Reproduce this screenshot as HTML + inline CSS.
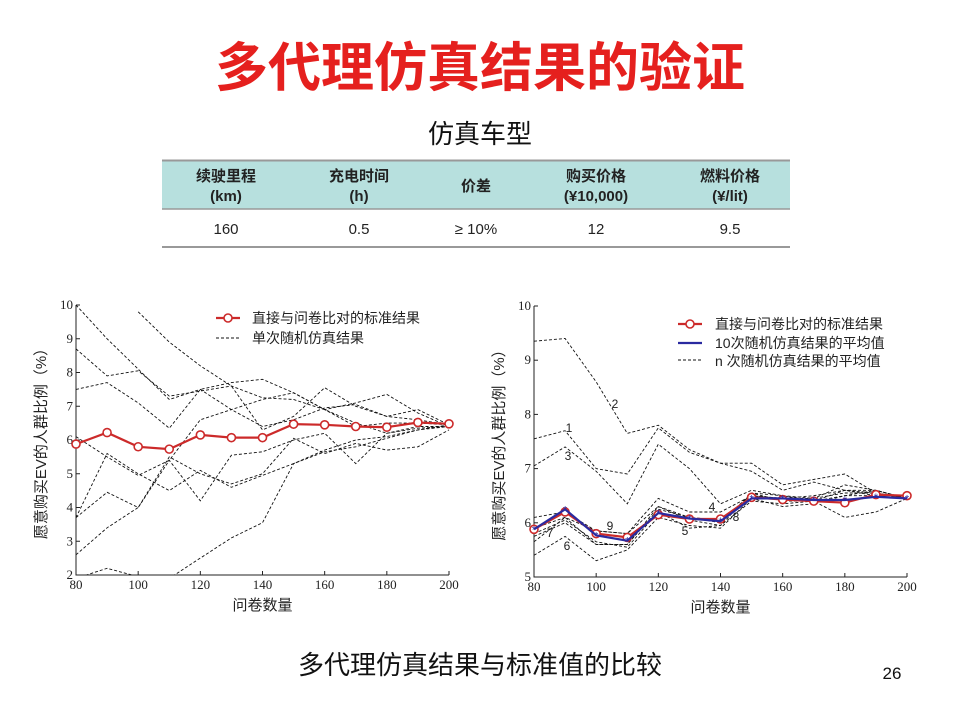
<!DOCTYPE html>
<html><head><meta charset="utf-8"><style>
body{margin:0;background:#fff;}
svg text{font-family:"Liberation Sans","Noto Sans CJK SC",sans-serif;}
.tk{font-family:"Liberation Serif","Noto Serif CJK SC",serif;font-size:13px;fill:#222;}
</style></head><body>
<svg id="s" width="960" height="720" viewBox="0 0 960 720" xmlns="http://www.w3.org/2000/svg">
<text x="480" y="86" text-anchor="middle" font-size="53" font-weight="bold" fill="#e5201e">多代理仿真结果的验证</text>
<text x="480" y="143" text-anchor="middle" font-size="26" fill="#111">仿真车型</text>
<g>
<rect x="162" y="160" width="628" height="49" fill="#b7e0de"/>
<line x1="162" y1="160.5" x2="790" y2="160.5" stroke="#999" stroke-width="2"/>
<line x1="162" y1="209" x2="790" y2="209" stroke="#999" stroke-width="1.5"/>
<line x1="162" y1="247" x2="790" y2="247" stroke="#999" stroke-width="2"/>
<g font-size="15" font-weight="bold" fill="#222" text-anchor="middle">
<text x="226" y="181">续驶里程</text><text x="226" y="201">(km)</text>
<text x="359" y="181">充电时间</text><text x="359" y="201">(h)</text>
<text x="476" y="191">价差</text>
<text x="596" y="181">购买价格</text><text x="596" y="201">(¥10,000)</text>
<text x="730" y="181">燃料价格</text><text x="730" y="201">(¥/lit)</text>
</g>
<g font-size="15" fill="#222" text-anchor="middle">
<text x="226" y="234">160</text><text x="359" y="234">0.5</text><text x="476" y="234">≥ 10%</text><text x="596" y="234">12</text><text x="730" y="234">9.5</text>
</g></g>
<g id="c1"></g>
<g id="c2"></g>
<text x="480" y="674" text-anchor="middle" font-size="26" fill="#111">多代理仿真结果与标准值的比较</text>
<text x="892" y="679" text-anchor="middle" font-size="17" fill="#111">26</text>
</svg>
<script>
const xCats=[80,90,100,110,120,130,140,150,160,170,180,190,200];
const xTicks=[80,100,120,140,160,180,200];
const leftTicksY=[2,3,4,5,6,7,8,9,10];
const rightTicksY=[5,6,7,8,9,10];
const leftStd=[5.88,6.22,5.8,5.73,6.15,6.07,6.07,6.47,6.45,6.4,6.38,6.52,6.48];
const leftRuns=[
[10,9,8.1,7.2,7.5,6.9,6.4,6.6,6.95,7.05,6.7,6.6,6.45],
[8.7,7.9,8.05,7.3,7.45,7.6,7.25,7.2,6.9,6.5,6.2,6.35,6.4],
[7.5,7.7,7.1,6.35,7.5,7.7,7.8,7.4,6.9,7.1,7.35,6.8,6.4],
[null,null,9.8,8.9,8.2,7.6,6.3,6.7,7.55,7.0,6.7,6.9,6.45],
[6.1,5.5,4.95,5.4,6.6,6.9,7.2,7.4,6.9,6.4,6.5,6.5,6.45],
[3.7,5.6,5.0,4.5,5.1,4.6,4.95,5.3,5.65,5.8,6.05,6.3,6.45],
[3.7,4.45,4.0,5.4,4.2,5.55,5.65,6.0,6.2,5.3,6.2,6.4,6.4],
[2.6,3.4,4.0,5.5,5.0,4.7,5.0,6.05,5.6,5.9,5.7,5.8,6.3],
[1.9,2.2,1.95,1.9,2.5,3.1,3.55,5.3,5.7,6.0,6.1,6.3,6.4]];
const rightStd=[5.88,6.2,5.8,5.73,6.15,6.07,6.07,6.47,6.43,6.4,6.37,6.52,6.5];
const rightAvg10=[5.88,6.25,5.77,5.67,6.18,6.08,6.03,6.45,6.45,6.42,6.42,6.48,6.45];
const rightRuns=[
[7.55,7.7,7.0,6.9,7.75,7.3,7.1,7.1,6.7,6.8,6.9,6.55,6.45],
[9.35,9.4,8.6,7.65,7.8,7.35,7.1,6.95,6.6,6.75,6.6,6.55,6.45],
[7.05,7.4,6.95,6.35,7.45,7.0,6.35,6.6,6.5,6.45,6.7,6.6,6.45],
[6.1,6.2,5.85,5.8,6.45,6.2,6.2,6.5,6.45,6.45,6.55,6.55,6.45],
[5.8,6.05,5.65,5.55,6.2,5.9,5.95,6.4,6.35,6.4,6.1,6.2,6.45],
[5.4,5.75,5.3,5.5,6.1,5.95,5.9,6.45,6.3,6.35,6.5,6.6,6.45],
[5.65,6.1,5.6,5.6,6.3,6.05,5.95,6.55,6.4,6.4,6.6,6.5,6.45],
[5.75,6.0,5.6,5.6,6.25,6.1,6.0,6.55,6.5,6.4,6.5,6.5,6.45],
[5.9,6.1,5.85,5.8,6.3,6.1,6.05,6.5,6.45,6.5,6.6,6.6,6.45]];
const runLabels=["1","2","3","4","5","6","7","8","9"];
const NS="http://www.w3.org/2000/svg";
function mk(p,t,a){const e=document.createElementNS(NS,t);for(const k in a)e.setAttribute(k,a[k]);p.appendChild(e);return e;}
function chart(g,L,R,T,B,ymin,ymax,yt,id){
  const sx=v=>L+(v-80)/(200-80)*(R-L), sy=v=>B-(v-ymin)/(ymax-ymin)*(B-T);
  const cp=mk(g,'clipPath',{id:id});mk(cp,'rect',{x:L,y:T-2,width:R-L+2,height:B-T+2});
  const ax=mk(g,'path',{d:`M${L},${T}V${B}H${R}`,stroke:'#222',fill:'none','stroke-width':1});
  
  
  yt.forEach(v=>{mk(g,'line',{x1:L,x2:L+4,y1:sy(v),y2:sy(v),stroke:'#222'});
    const t=mk(g,'text',{x:L-3,y:sy(v)+4,'text-anchor':'end',class:'tk'});t.textContent=v;
    
    });
  xTicks.forEach(v=>{mk(g,'line',{x1:sx(v),x2:sx(v),y1:B,y2:B-4,stroke:'#222'});
    const t=mk(g,'text',{x:sx(v),y:B+14,'text-anchor':'middle',class:'tk'});t.textContent=v;
    
    });
  const xt=mk(g,'text',{x:(L+R)/2,y:B+35,'text-anchor':'middle','font-size':15,fill:'#222'});xt.textContent='问卷数量';
  
  
  const yl=mk(g,'text',{transform:`translate(${L-30},${(T+B)/2}) rotate(-90)`,'text-anchor':'middle','font-size':15,fill:'#222'});yl.textContent='愿意购买EV的人群比例（%）';
  
  
  const path=a=>{let d='',m=true;a.forEach((v,i)=>{if(v==null){m=true;return;}d+=(m?'M':'L')+sx(xCats[i]).toFixed(1)+','+sy(v).toFixed(1);m=false;});return d;};
  return {sx,sy,path,clip:`url(#${id})`};
}
const c1=document.getElementById('c1'), c2=document.getElementById('c2');
const A=chart(c1,76,449,305,575,2,10,leftTicksY,'k1');
leftRuns.forEach(r=>{const p=mk(c1,'path',{d:A.path(r),stroke:'#111',fill:'none','stroke-width':0.9,'stroke-dasharray':'3,2','clip-path':A.clip});
  
  });
function stdLine(g,C,arr,col){const p=mk(g,'path',{d:C.path(arr),stroke:col,fill:'none','stroke-width':2.2});
  
  
  arr.forEach((v,i)=>{const c=mk(g,'circle',{cx:C.sx(xCats[i]),cy:C.sy(v),r:4,fill:'#fff',stroke:col,'stroke-width':1.6});
    
    });}
stdLine(c1,A,leftStd,'#cc2a2a');
mk(c1,'line',{x1:216,x2:240,y1:318,y2:318,stroke:'#cc2a2a','stroke-width':2.2});
mk(c1,'circle',{cx:228,cy:318,r:4,fill:'#fff',stroke:'#cc2a2a','stroke-width':1.6});
mk(c1,'line',{x1:216,x2:240,y1:338,y2:338,stroke:'#111','stroke-dasharray':'3,2'});
let t=mk(c1,'text',{x:252,y:323,'font-size':14,fill:'#222'});t.textContent='直接与问卷比对的标准结果';


t=mk(c1,'text',{x:252,y:343,'font-size':14,fill:'#222'});t.textContent='单次随机仿真结果';



const B2=chart(c2,534,907,306,577,5,10,rightTicksY,'k2');
rightRuns.forEach(r=>{const p=mk(c2,'path',{d:B2.path(r),stroke:'#111',fill:'none','stroke-width':0.9,'stroke-dasharray':'3,2','clip-path':B2.clip});
  
  });
const lblPos=[[569,432],[615,408],[568,460],[712,511],[685,535],[567,550],[550,537],[736,521],[610,530]];
runLabels.forEach((s,i)=>{const e=mk(c2,'text',{x:lblPos[i][0],y:lblPos[i][1],'font-size':12,fill:'#222','text-anchor':'middle'});e.textContent=s;
  
  });
stdLine(c2,B2,rightStd,'#cc2a2a');
const bl=mk(c2,'path',{d:B2.path(rightAvg10),stroke:'#2a2aa0',fill:'none','stroke-width':2.2});


rightAvg10.forEach((v,i)=>{const e=mk(c2,'text',{x:B2.sx(xCats[i]),y:B2.sy(v)+4,'font-size':11,fill:'#2a2aa0','text-anchor':'middle'});e.textContent='*';
  
  });
mk(c2,'line',{x1:678,x2:702,y1:324,y2:324,stroke:'#cc2a2a','stroke-width':2.2});
mk(c2,'circle',{cx:690,cy:324,r:4,fill:'#fff',stroke:'#cc2a2a','stroke-width':1.6});
mk(c2,'line',{x1:678,x2:702,y1:343,y2:343,stroke:'#2a2aa0','stroke-width':2.2});
mk(c2,'line',{x1:678,x2:702,y1:360,y2:360,stroke:'#111','stroke-dasharray':'3,2'});
[['直接与问卷比对的标准结果',329],['10次随机仿真结果的平均值',348],['n 次随机仿真结果的平均值',366]].forEach(a=>{
  const e=mk(c2,'text',{x:715,y:a[1],'font-size':14,fill:'#222'});e.textContent=a[0];
  
  });
</script>
</body></html>
